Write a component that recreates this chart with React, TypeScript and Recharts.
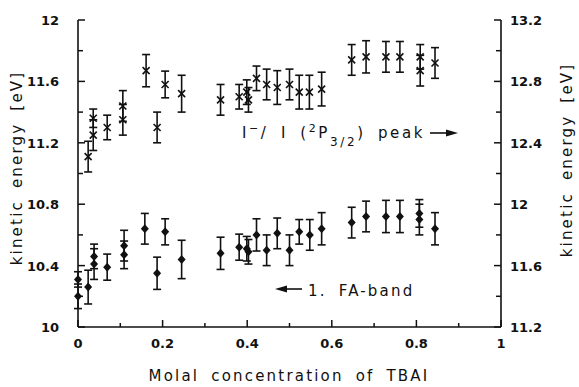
import { ComposedChart, Scatter, XAxis, YAxis, ErrorBar } from "recharts";

// I-/I (2P3/2) peak, read on the right axis
const peakX = [0.024, 0.036, 0.036, 0.069, 0.106, 0.106, 0.161, 0.187, 0.206, 0.245, 0.337, 0.381, 0.399, 0.403, 0.422, 0.446, 0.471, 0.5, 0.523, 0.547, 0.576, 0.647, 0.681, 0.728, 0.761, 0.809, 0.809, 0.844];
const peakY = [12.31, 12.45, 12.56, 12.5, 12.64, 12.55, 12.87, 12.5, 12.78, 12.72, 12.68, 12.7, 12.73, 12.68, 12.82, 12.78, 12.76, 12.78, 12.73, 12.73, 12.75, 12.94, 12.96, 12.96, 12.96, 12.96, 12.87, 12.92];
const peakErr = [0.1, 0.1, 0.06, 0.08, 0.1, 0.1, 0.105, 0.1, 0.087, 0.12, 0.1, 0.08, 0.08, 0.08, 0.08, 0.1, 0.11, 0.1, 0.11, 0.11, 0.11, 0.1, 0.105, 0.1, 0.1, 0.08, 0.1, 0.1];

// 1. FA-band, read on the left axis
const bandX = [0, 0, 0.024, 0.038, 0.038, 0.069, 0.109, 0.109, 0.158, 0.187, 0.206, 0.245, 0.337, 0.381, 0.399, 0.403, 0.422, 0.446, 0.471, 0.5, 0.523, 0.548, 0.576, 0.647, 0.681, 0.728, 0.761, 0.807, 0.807, 0.844];
const bandY = [10.31, 10.2, 10.26, 10.46, 10.41, 10.39, 10.53, 10.47, 10.64, 10.35, 10.62, 10.44, 10.48, 10.52, 10.51, 10.49, 10.6, 10.5, 10.61, 10.5, 10.62, 10.6, 10.64, 10.68, 10.72, 10.72, 10.72, 10.74, 10.7, 10.64];
const bandErr = [0.05, 0.08, 0.11, 0.08, 0.1, 0.085, 0.1, 0.09, 0.1, 0.105, 0.085, 0.125, 0.105, 0.085, 0.08, 0.08, 0.105, 0.1, 0.1, 0.1, 0.08, 0.1, 0.105, 0.1, 0.1, 0.105, 0.105, 0.09, 0.1, 0.105];

const xTicks = [0, 0.1, 0.2, 0.3, 0.4, 0.5, 0.6, 0.7, 0.8, 0.9, 1];
const leftTicks = [10, 10.2, 10.4, 10.6, 10.8, 11, 11.2, 11.4, 11.6, 11.8, 12];
const rightTicks = [11.2, 11.4, 11.6, 11.8, 12, 12.2, 12.4, 12.6, 12.8, 13, 13.2];

const peakData = peakX.map((x, i) => ({ x, y: peakY[i], err: peakErr[i] }));
const bandData = bandX.map((x, i) => ({ x, y: bandY[i], err: bandErr[i] }));

const INK = "#111";
const FONT = "DejaVu Sans";

const isMajorX = (v: number) => Math.round(v * 10) % 2 === 0;
const isMajorY = (v: number) => Math.round(v * 10) % 4 === 0;

const BottomTick = ({ x, y, payload }: any) => {
  const major = isMajorX(payload.value);
  return (
    <g>
      <line x1={x} x2={x} y1={y} y2={y - (major ? 7 : 4)} stroke={INK} strokeWidth={1.5} />
      {major && (
        <text x={x} y={y + 21} textAnchor="middle" fontFamily={FONT} fontWeight="bold" fontSize={13} fill={INK}>
          {String(payload.value)}
        </text>
      )}
    </g>
  );
};

const TopTick = ({ x, y }: any) => (
  <line x1={x} x2={x} y1={y} y2={y + 5} stroke={INK} strokeWidth={1.5} />
);

const LeftTick = ({ x, y, payload }: any) => {
  const major = isMajorY(payload.value);
  return (
    <g>
      <line x1={x} x2={x + (major ? 7 : 5)} y1={y} y2={y} stroke={INK} strokeWidth={1.5} />
      {major && (
        <text x={x - 19} y={y + 5} textAnchor="end" fontFamily={FONT} fontWeight="bold" fontSize={13} fill={INK}>
          {String(payload.value)}
        </text>
      )}
    </g>
  );
};

const RightTick = ({ x, y, payload }: any) => {
  const major = isMajorY(payload.value);
  return (
    <g>
      <line x1={x} x2={x - (major ? 7 : 5)} y1={y} y2={y} stroke={INK} strokeWidth={1.5} />
      {major && (
        <text x={x + 9} y={y + 5} textAnchor="start" fontFamily={FONT} fontWeight="bold" fontSize={13} fill={INK}>
          {String(payload.value)}
        </text>
      )}
    </g>
  );
};

const Cross = ({ cx, cy }: any) => (
  <g stroke={INK} strokeWidth={1.6}>
    <line x1={cx - 3.5} y1={cy - 3.5} x2={cx + 3.5} y2={cy + 3.5} />
    <line x1={cx - 3.5} y1={cy + 3.5} x2={cx + 3.5} y2={cy - 3.5} />
  </g>
);

const Diamond = ({ cx, cy }: any) => (
  <polygon
    points={`${cx},${cy - 4.5} ${cx + 4},${cy} ${cx},${cy + 4.5} ${cx - 4},${cy}`}
    fill={INK}
  />
);

const textStyle = {
  fontFamily: FONT,
  fontSize: 15,
  letterSpacing: 2.2,
  wordSpacing: 5,
  fill: INK,
} as const;

export default function App() {
  return (
    <div style={{ position: "absolute", left: 0, top: 0, width: 579, height: 387, background: "#fff" }}>
      <ComposedChart width={579} height={387} margin={{ top: 20, right: 18, bottom: 30, left: 18 }}>
        <XAxis
          xAxisId="bottom"
          dataKey="x"
          type="number"
          domain={[0, 1]}
          ticks={xTicks}
          interval={0}
          height={30}
          tickSize={0}
          tickMargin={0}
          tickLine={false}
          axisLine={{ stroke: INK, strokeWidth: 1.6 }}
          tick={BottomTick}
        />
        <XAxis
          xAxisId="top"
          orientation="top"
          type="number"
          domain={[0, 1]}
          ticks={xTicks}
          interval={0}
          height={0}
          tickSize={0}
          tickMargin={0}
          tickLine={false}
          axisLine={{ stroke: INK, strokeWidth: 1.6 }}
          tick={TopTick}
        />
        <YAxis
          yAxisId="left"
          dataKey="y"
          type="number"
          domain={[10, 12]}
          ticks={leftTicks}
          interval={0}
          width={60}
          tickSize={0}
          tickMargin={0}
          tickLine={false}
          axisLine={{ stroke: INK, strokeWidth: 1.6 }}
          tick={LeftTick}
        />
        <YAxis
          yAxisId="right"
          orientation="right"
          dataKey="y"
          type="number"
          domain={[11.2, 13.2]}
          ticks={rightTicks}
          interval={0}
          width={60}
          tickSize={0}
          tickMargin={0}
          tickLine={false}
          axisLine={{ stroke: INK, strokeWidth: 1.6 }}
          tick={RightTick}
        />
        <Scatter data={bandData} xAxisId="bottom" yAxisId="left" shape={Diamond} isAnimationActive={false}>
          <ErrorBar dataKey="err" direction="y" width={4} stroke={INK} strokeWidth={1.6} />
        </Scatter>
        <Scatter data={peakData} xAxisId="bottom" yAxisId="right" shape={Cross} isAnimationActive={false}>
          <ErrorBar dataKey="err" direction="y" width={4} stroke={INK} strokeWidth={1.6} />
        </Scatter>
      </ComposedChart>
      <svg
        width={579}
        height={387}
        style={{ position: "absolute", left: 0, top: 0, pointerEvents: "none" }}
      >
        <text x={289} y={381} textAnchor="middle" {...textStyle}>
          Molal concentration of TBAI
        </text>
        <text x={22} y={168} textAnchor="middle" transform="rotate(-90 22 168)" {...textStyle}>
          kinetic energy [eV]
        </text>
        <text x={572} y={160} textAnchor="middle" transform="rotate(-90 572 160)" {...textStyle}>
          kinetic energy [eV]
        </text>
        <text x={242} y={138} {...textStyle} letterSpacing={2.6}>
          I<tspan dy={-6} fontSize={11}>−</tspan>
          <tspan dy={6}>/ I (</tspan>
          <tspan dy={-6} fontSize={11}>2</tspan>
          <tspan dy={6}>P</tspan>
          <tspan dy={8} fontSize={12}>3/2</tspan>
          <tspan dy={-8}>)  peak</tspan>
        </text>
        <line x1={430} x2={450} y1={133} y2={133} stroke={INK} strokeWidth={1.6} />
        <polygon points="446,129.5 458,133 446,136.5" fill={INK} />
        <line x1={283} x2={302} y1={289} y2={289} stroke={INK} strokeWidth={1.6} />
        <polygon points="287,285.5 275,289 287,292.5" fill={INK} />
        <text x={308} y={296} {...textStyle}>
          1. FA-band
        </text>
      </svg>
    </div>
  );
}
